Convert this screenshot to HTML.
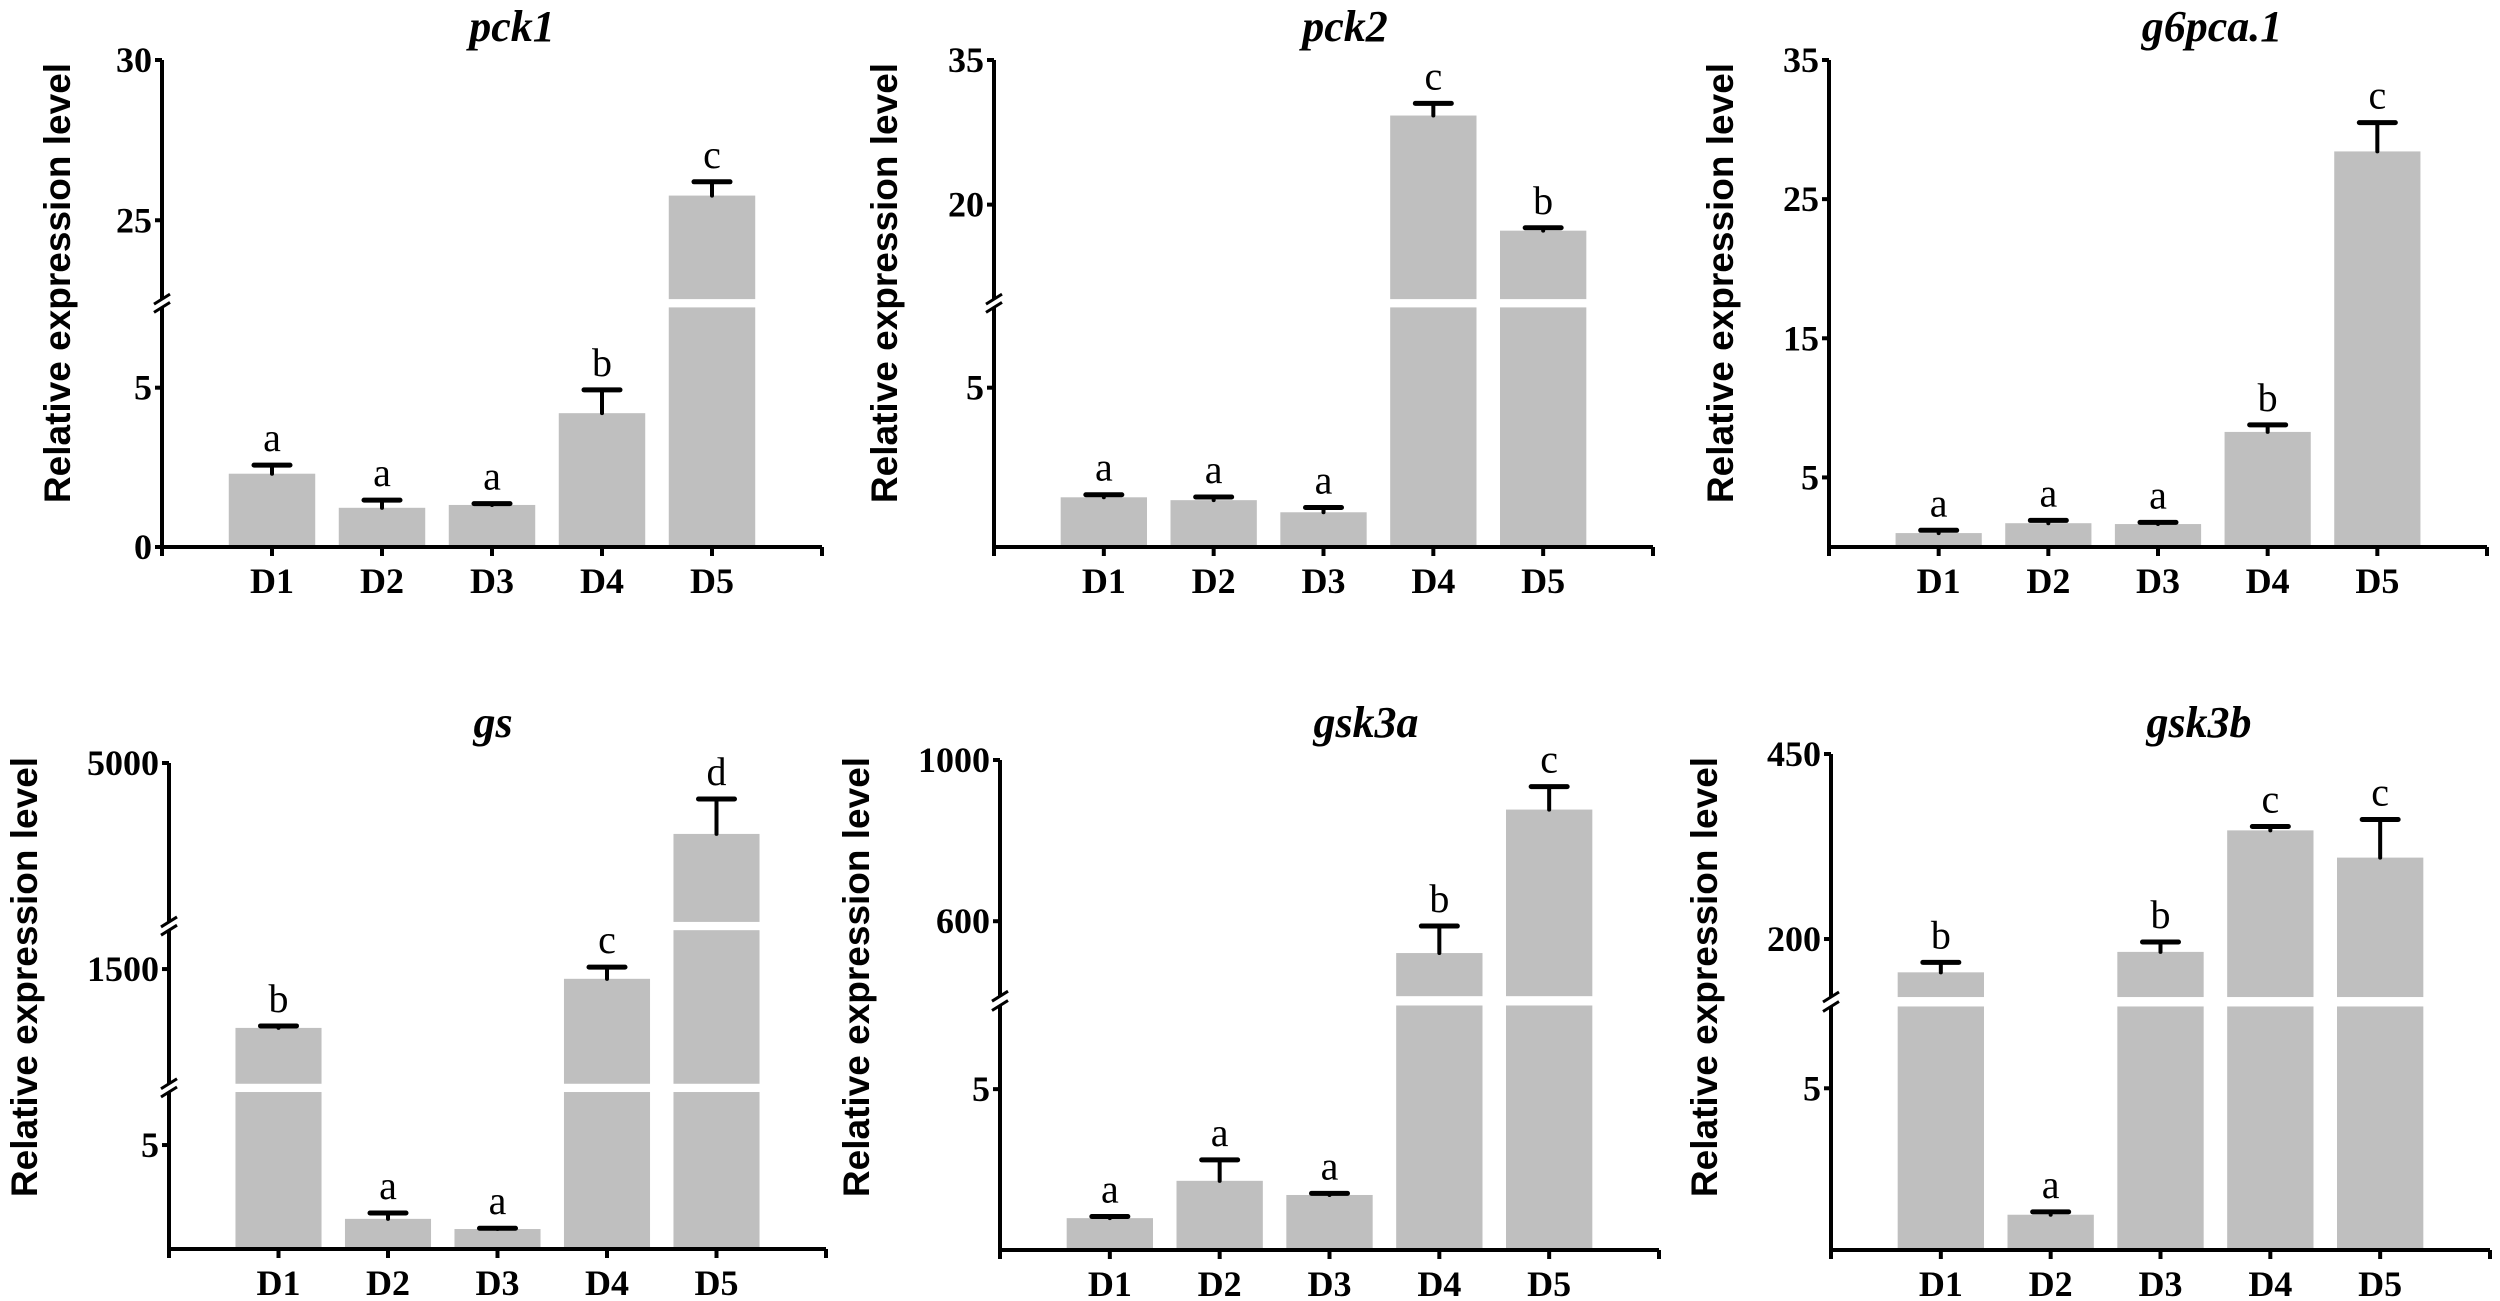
<!DOCTYPE html>
<html><head><meta charset="utf-8"><style>
html,body{margin:0;padding:0;background:#fff;}
svg{display:block;}
</style></head><body>
<svg id="fig" width="2500" height="1301" viewBox="0 0 2500 1301" xmlns="http://www.w3.org/2000/svg"></svg>
<script>
const categories = ["D1","D2","D3","D4","D5"];
// pck1
const pck1Values = [2.3, 1.23, 1.32, 4.2, 25.77];
const pck1Errors = [0.27, 0.24, 0.04, 0.73, 0.43];
const pck1Letters = ["a","a","a","b","c"];
const pck1Ticks = [0, 5, 25, 30];
const pck1Segments = [[0, 7.52], [22.54, 30]];
// pck2
const pck2Values = [1.56, 1.47, 1.09, 29.24, 17.3];
const pck2Errors = [0.08, 0.1, 0.15, 1.26, 0.3];
const pck2Letters = ["a","a","a","c","b"];
const pck2Ticks = [5, 20, 35];
const pck2Segments = [[0, 7.52], [10.2, 35]];
// g6pca.1
const g6pcaValues = [1.0, 1.71, 1.65, 8.27, 28.43];
const g6pcaErrors = [0.2, 0.2, 0.12, 0.51, 2.07];
const g6pcaLetters = ["a","a","a","b","c"];
const g6pcaTicks = [5, 15, 25, 35];
const g6pcaSegments = [[0, 35]];
// gs
const gsValues = [987, 1.45, 0.96, 1415, 3661];
const gsErrors = [17, 0.28, 0.04, 102, 660];
const gsLetters = ["b","a","a","c","d"];
const gsTicks = [5, 1500, 5000];
const gsSegments = [[0, 7.55], [500, 1839], [2000, 5000]];
// gsk3a
const gsk3aValues = [0.99, 2.15, 1.71, 521, 877];
const gsk3aErrors = [0.05, 0.65, 0.05, 67, 57];
const gsk3aLetters = ["a","a","a","b","c"];
const gsk3aTicks = [5, 600, 1000];
const gsk3aSegments = [[0, 7.6], [414, 1000]];
// gsk3b
const gsk3bValues = [155, 1.09, 182.6, 346.8, 310];
const gsk3bErrors = [13.5, 0.09, 13.4, 5.2, 51.5];
const gsk3bLetters = ["b","a","b","c","c"];
const gsk3bTicks = [5, 200, 450];
const gsk3bSegments = [[0, 7.53], [121.6, 450]];

// layout (positions, not data)
const panels = [
 {id:"pck1", title:"pck1", v:pck1Values, e:pck1Errors, l:pck1Letters, t:pck1Ticks, s:pck1Segments,
  x0:162, x1:822, y0:60, y1:547, frac:[[1,0.508],[0.491,0]], tx:512, ty:41, lx:57, ly:283},
 {id:"pck2", title:"pck2", v:pck2Values, e:pck2Errors, l:pck2Letters, t:pck2Ticks, s:pck2Segments,
  x0:994, x1:1653, y0:60, y1:547, frac:[[1,0.508],[0.491,0]], tx:1345, ty:41, lx:884, ly:283},
 {id:"g6pca", title:"g6pca.1", v:g6pcaValues, e:g6pcaErrors, l:g6pcaLetters, t:g6pcaTicks, s:g6pcaSegments,
  x0:1829, x1:2487, y0:60, y1:547, frac:[[1,0]], tx:2212, ty:41, lx:1720, ly:283},
 {id:"gs", title:"gs", v:gsValues, e:gsErrors, l:gsLetters, t:gsTicks, s:gsSegments,
  x0:169, x1:826, y0:763, y1:1249, frac:[[1,0.677],[0.660,0.344],[0.327,0]], tx:493, ty:737, lx:24, ly:977},
 {id:"gsk3a", title:"gsk3a", v:gsk3aValues, e:gsk3aErrors, l:gsk3aLetters, t:gsk3aTicks, s:gsk3aSegments,
  x0:1000, x1:1659, y0:760, y1:1250, frac:[[1,0.501],[0.482,0]], tx:1366, ty:737, lx:856, ly:977},
 {id:"gsk3b", title:"gsk3b", v:gsk3bValues, e:gsk3bErrors, l:gsk3bLetters, t:gsk3bTicks, s:gsk3bSegments,
  x0:1831, x1:2490, y0:754, y1:1250, frac:[[1,0.509],[0.490,0]], tx:2199, ty:737, lx:1704, ly:977}
];

const NS = "http://www.w3.org/2000/svg";
const svg = document.getElementById("fig");
function mk(tag, attrs, parent){
  const el = document.createElementNS(NS, tag);
  for (const k in attrs) el.setAttribute(k, attrs[k]);
  (parent||svg).appendChild(el);
  return el;
}
const SERIF = "'Liberation Serif', 'Times New Roman', serif";
const SANS = "'Liberation Sans', Arial, sans-serif";

panels.forEach(p => {
  const g = mk("g", {});
  
  
  const H = p.y1 - p.y0, W = p.x1 - p.x0;
  function yOf(val){
    for (let i = 0; i < p.s.length; i++){
      const [lo, hi] = p.s[i];
      if (val <= hi || i === p.s.length - 1){
        const [fLo, fHi] = p.frac[i];
        const v = Math.max(lo, Math.min(hi, val));
        const f = fLo + (v - lo) / (hi - lo) * (fHi - fLo);
        return p.y0 + f * H;
      }
    }
  }
  function xOf(i){ return p.x0 + (i + 1) / 6 * W; }
  const bw = 0.131 * W;

  p.v.forEach((val, i) => {
    for (let k = 0; k < p.s.length; k++){
      const [lo, hi] = p.s[k];
      if (val <= lo) continue;
      const yb = p.y0 + p.frac[k][0] * H;
      const top = p.y0 + (p.frac[k][0] + (Math.min(val, hi) - lo) / (hi - lo) * (p.frac[k][1] - p.frac[k][0])) * H;
      const r = mk("rect", {x: xOf(i) - bw/2, y: top, width: bw, height: yb - top, fill: "#bfbfbf"}, g);
      
      
    }
    const yt = yOf(val), ye = yOf(val + p.e[i]);
    const eg = mk("g", {stroke:"#000", "stroke-linecap":"round"}, g);
    
    
    mk("line", {x1: xOf(i), y1: yt, x2: xOf(i), y2: ye, "stroke-width": 4}, eg);
    mk("line", {x1: xOf(i) - 18, y1: ye, x2: xOf(i) + 18, y2: ye, "stroke-width": 5}, eg);
    const t = mk("text", {x: xOf(i), y: ye - 14, "text-anchor":"middle", "font-family": SERIF, "font-size": 40}, g);
    t.textContent = p.l[i];
    
    
  });

  const ax = mk("g", {stroke:"#000", "stroke-width":4, fill:"none"}, g);
  
  
  p.frac.forEach((fr, k) => {
    const ya = p.y0 + fr[0] * H + (k === 0 ? 2 : 0), yb = p.y0 + fr[1] * H;
    mk("line", {x1: p.x0, y1: ya, x2: p.x0, y2: yb}, ax);
    if (k > 0){
      mk("line", {x1: p.x0 - 8, y1: ya + 5, x2: p.x0 + 8, y2: ya - 5, "stroke-width":3}, ax);
    }
    if (k < p.frac.length - 1){
      mk("line", {x1: p.x0 - 8, y1: yb + 5, x2: p.x0 + 8, y2: yb - 5, "stroke-width":3}, ax);
    }
  });
  p.t.forEach(tv => {
    const y = yOf(tv);
    mk("line", {x1: p.x0 - 7, y1: y, x2: p.x0, y2: y}, ax);
    const t = mk("text", {x: p.x0 - 10, y: y + 12, "text-anchor":"end", "font-family": SERIF, "font-weight":"bold", "font-size": 36}, g);
    t.textContent = tv;
    
    
  });

  const xa = mk("g", {stroke:"#000", "stroke-width":4}, g);
  
  
  mk("line", {x1: p.x0 - 2, y1: p.y1, x2: p.x1, y2: p.y1}, xa);
  mk("line", {x1: p.x0, y1: p.y1, x2: p.x0, y2: p.y1 + 9}, xa);
  mk("line", {x1: p.x1, y1: p.y1, x2: p.x1, y2: p.y1 + 9}, xa);
  categories.forEach((c, i) => {
    mk("line", {x1: xOf(i), y1: p.y1, x2: xOf(i), y2: p.y1 + 9}, xa);
    const t = mk("text", {x: xOf(i), y: p.y1 + 46, "text-anchor":"middle", "font-family": SERIF, "font-weight":"bold", "font-size": 36}, g);
    t.textContent = c;
    
    
  });

  const tt = mk("text", {x: p.tx, y: p.ty, "text-anchor":"middle", "font-family": SERIF, "font-weight":"bold", "font-style":"italic", "font-size": 44}, g);
  tt.textContent = p.title;
  
  
  const yl = mk("text", {x: 0, y: 0, transform: "translate(" + (p.lx + 13) + "," + p.ly + ") rotate(-90)", "text-anchor":"middle", "font-family": SANS, "font-weight":"bold", "font-size": 37}, g);
  yl.textContent = "Relative expression level";
  
  
});
</script>
</body></html>
